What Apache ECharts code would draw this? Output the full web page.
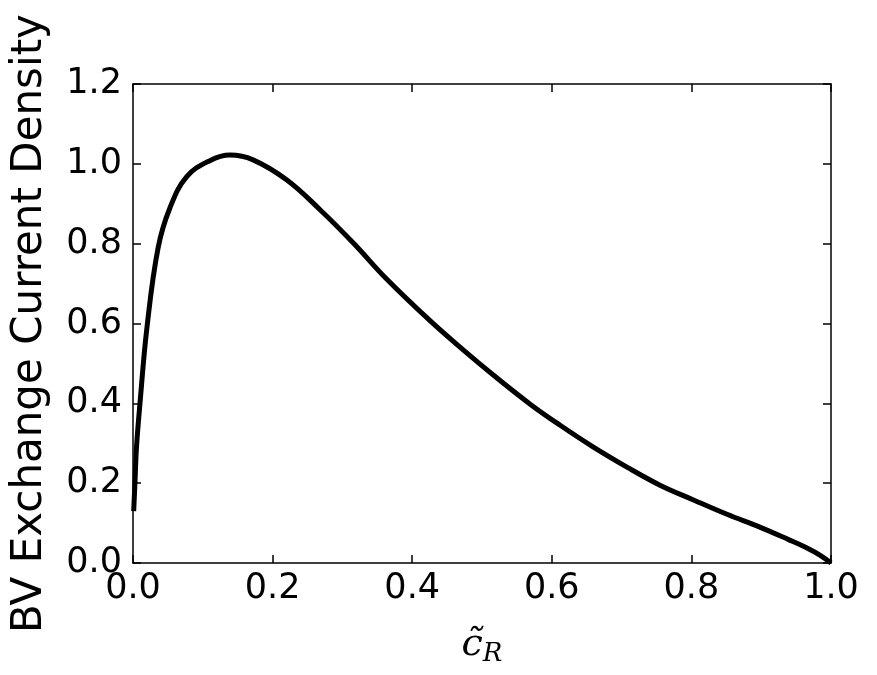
<!DOCTYPE html>
<html>
<head>
<meta charset="utf-8">
<script src="https://cdn.jsdelivr.net/npm/echarts@6/dist/echarts.min.js"></script>
<style>
  html, body { margin: 0; padding: 0; background: #fff; }
  #chart { width: 877px; height: 675px; }
</style>
</head>
<body>
<div id="chart"></div>
<script>
// values
const cR = [0.001, 0.003, 0.005, 0.010, 0.020, 0.036, 0.053, 0.077, 0.110, 0.139,
  0.172, 0.220, 0.268, 0.316, 0.363, 0.4255, 0.473, 0.521, 0.569, 0.612,
  0.659, 0.707, 0.755, 0.803, 0.851, 0.898, 0.940, 0.965, 0.984, 1.0];
const currentDensity = [0.13, 0.21, 0.29, 0.40, 0.59, 0.79, 0.89, 0.968, 1.008, 1.022,
  1.010, 0.960, 0.885, 0.801, 0.712, 0.607, 0.534, 0.464, 0.398, 0.345,
  0.291, 0.241, 0.195, 0.158, 0.122, 0.090, 0.058, 0.038, 0.02, 0.0];

const chart = echarts.init(document.getElementById("chart"), null, { renderer: "canvas" });

const tickFont = { fontFamily: "DejaVu Sans", fontSize: 35, color: "#000" };
const lineStyle = { color: "#000", width: 1.5 };
const ticks = { show: true, inside: true, length: 8, lineStyle: lineStyle };
const axLine = { show: true, onZero: false, lineStyle: lineStyle };

const option = {
  animation: false,
  backgroundColor: "#fff",
  grid: { left: 133, right: 46, top: 84, bottom: 112, containLabel: false, outerBoundsMode: "none" },
  xAxis: [
    {
      type: "value",
      min: 0, max: 1, interval: 0.2,
      name: "{c|c\u0303}{r|R}",
      nameLocation: "middle",
      nameGap: 60,
      nameTextStyle: {
        rich: {
          c: { fontFamily: "DejaVu Serif", fontStyle: "italic", fontSize: 38, color: "#000" },
          r: { fontFamily: "DejaVu Serif", fontStyle: "italic", fontSize: 26, color: "#000", padding: [18, 0, 0, 0] }
        }
      },
      axisLine: axLine,
      axisTick: ticks,
      splitLine: { show: false },
      axisLabel: Object.assign({ margin: 8, formatter: v => v.toFixed(1) }, tickFont)
    },
    {
      type: "value",
      position: "top",
      min: 0, max: 1, interval: 0.2,
      axisLine: axLine,
      axisTick: ticks,
      splitLine: { show: false },
      axisLabel: { show: false }
    }
  ],
  yAxis: [
    {
      type: "value",
      min: 0, max: 1.2, interval: 0.2,
      name: "BV Exchange Current Density",
      nameLocation: "middle",
      nameGap: 82,
      nameTextStyle: { fontFamily: "DejaVu Sans", fontSize: 42, color: "#000" },
      axisLine: axLine,
      axisTick: ticks,
      splitLine: { show: false },
      axisLabel: Object.assign({ margin: 11, formatter: v => v.toFixed(1) }, tickFont)
    },
    {
      type: "value",
      position: "right",
      min: 0, max: 1.2, interval: 0.2,
      axisLine: axLine,
      axisTick: ticks,
      splitLine: { show: false },
      axisLabel: { show: false }
    }
  ],
  series: [
    {
      type: "line",
      data: cR.map((x, i) => [x, currentDensity[i]]),
      showSymbol: false,
      smooth: 0.4,
      lineStyle: { color: "#000", width: 5 },
      clip: true
    }
  ]
};

chart.setOption(option);
</script>
</body>
</html>
